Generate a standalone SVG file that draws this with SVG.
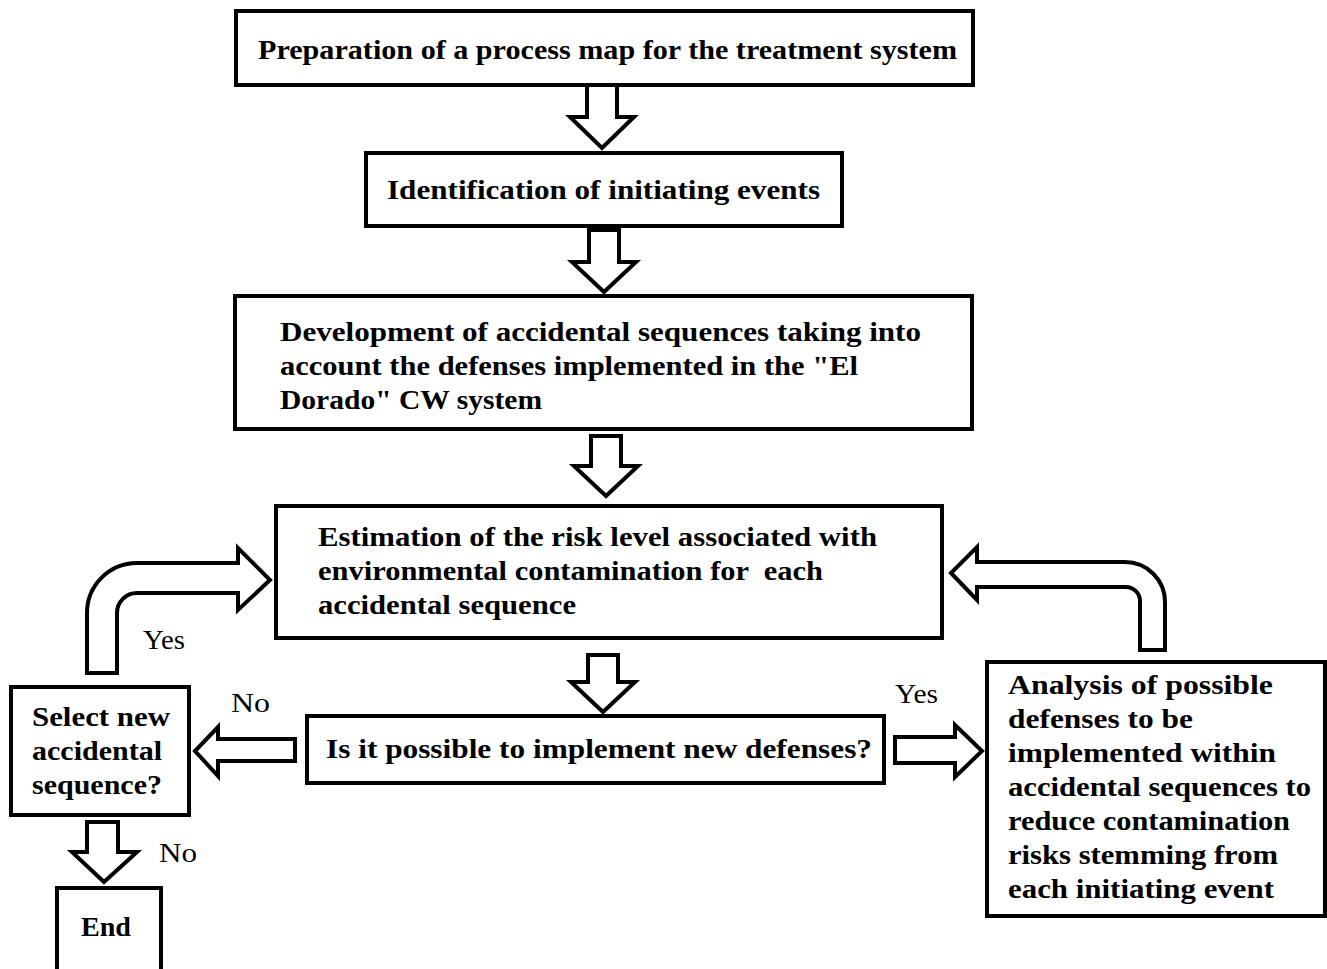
<svg xmlns="http://www.w3.org/2000/svg" width="1327" height="969" viewBox="0 0 1327 969">
<style>
.box{fill:#fff;stroke:#000;stroke-width:4}
.arr{fill:#fff;stroke:#000;stroke-width:4;stroke-linejoin:miter}
.t{font-family:"Liberation Serif",serif;font-weight:bold;font-size:28px;fill:#000;white-space:pre}
.l{font-family:"Liberation Serif",serif;font-size:28px;fill:#000}
</style>
<rect width="1327" height="969" fill="#fff"/>
<g id="connectors">
<path class="arr" d="M587,84 H617 V117 H634 L602,148 L570,117 H587 Z"/>
<path class="arr" d="M589,230 H619 V262 H636 L604,292 L572,262 H589 Z"/>
<path class="arr" d="M591,436 H621 V466 H638 L606,496 L574,466 H591 Z"/>
<path class="arr" d="M588,655 H618 V682 H635 L603,712 L571,682 H588 Z"/>
<path class="arr" d="M295,739 V761 H218 V776 L195,751 L218,727 V739 Z"/>
<path class="arr" d="M895,737 H955 V725 L982,751 L955,777 V763 H895 Z"/>
<path class="arr" d="M87,822 H118 V852 H137 L104,882 L72,852 H87 Z"/>
<path class="arr" d="M87,673 V613 A50,50 0 0 1 137,563 H238 V548 L270,580 L238,610 V593 H137 A20,20 0 0 0 117,613 V673 Z"/>
<path class="arr" d="M1165,650 V602 A40,40 0 0 0 1125,562 H977 V547 L951,573 L977,600 V587 H1126 A14,14 0 0 1 1140,601 V650 Z"/>
</g>
<g id="n1"><rect class="box" x="236" y="11" width="737" height="74"/>
<text class="t" x="258" y="59" textLength="699" lengthAdjust="spacingAndGlyphs">Preparation of a process map for the treatment system</text></g>
<g id="n2"><rect class="box" x="366" y="153" width="476" height="73"/>
<text class="t" x="387" y="199" textLength="433" lengthAdjust="spacingAndGlyphs">Identification of initiating events</text></g>
<g id="n3"><rect class="box" x="235" y="296" width="737" height="133"/>
<text class="t" x="280" y="341" textLength="641" lengthAdjust="spacingAndGlyphs">Development of accidental sequences taking into</text>
<text class="t" x="280" y="375" textLength="578" lengthAdjust="spacingAndGlyphs">account the defenses implemented in the "El</text>
<text class="t" x="280" y="409" textLength="262" lengthAdjust="spacingAndGlyphs">Dorado" CW system</text></g>
<g id="n4"><rect class="box" x="276" y="506" width="666" height="132"/>
<text class="t" x="318" y="546" textLength="559" lengthAdjust="spacingAndGlyphs">Estimation of the risk level associated with</text>
<text class="t" x="318" y="580" textLength="505" lengthAdjust="spacingAndGlyphs">environmental contamination for  each</text>
<text class="t" x="318" y="614" textLength="258" lengthAdjust="spacingAndGlyphs">accidental sequence</text></g>
<g id="n5"><rect class="box" x="307" y="716" width="577" height="67"/>
<text class="t" x="326" y="758" textLength="546" lengthAdjust="spacingAndGlyphs">Is it possible to implement new defenses?</text></g>
<g id="n6"><rect class="box" x="11" y="687" width="178" height="128"/>
<text class="t" x="32" y="726" textLength="138" lengthAdjust="spacingAndGlyphs">Select new</text>
<text class="t" x="32" y="760" textLength="130" lengthAdjust="spacingAndGlyphs">accidental</text>
<text class="t" x="32" y="794" textLength="130" lengthAdjust="spacingAndGlyphs">sequence?</text></g>
<g id="n7"><rect class="box" x="987" y="662" width="338" height="254"/>
<text class="t" x="1008" y="694" textLength="265" lengthAdjust="spacingAndGlyphs">Analysis of possible</text>
<text class="t" x="1008" y="728" textLength="185" lengthAdjust="spacingAndGlyphs">defenses to be</text>
<text class="t" x="1008" y="762" textLength="268" lengthAdjust="spacingAndGlyphs">implemented within</text>
<text class="t" x="1008" y="796" textLength="303" lengthAdjust="spacingAndGlyphs">accidental sequences to</text>
<text class="t" x="1008" y="830" textLength="282" lengthAdjust="spacingAndGlyphs">reduce contamination</text>
<text class="t" x="1008" y="864" textLength="270" lengthAdjust="spacingAndGlyphs">risks stemming from</text>
<text class="t" x="1008" y="898" textLength="266" lengthAdjust="spacingAndGlyphs">each initiating event</text></g>
<g id="n8"><rect class="box" x="57" y="888" width="104" height="90"/>
<text class="t" x="81" y="936" textLength="50" lengthAdjust="spacingAndGlyphs">End</text></g>
<g id="labels">
<text class="l" x="143" y="649" textLength="42" lengthAdjust="spacingAndGlyphs">Yes</text>
<text class="l" x="231" y="712" textLength="39" lengthAdjust="spacingAndGlyphs">No</text>
<text class="l" x="895" y="703" textLength="43" lengthAdjust="spacingAndGlyphs">Yes</text>
<text class="l" x="159" y="862" textLength="38" lengthAdjust="spacingAndGlyphs">No</text>
</g>
</svg>
